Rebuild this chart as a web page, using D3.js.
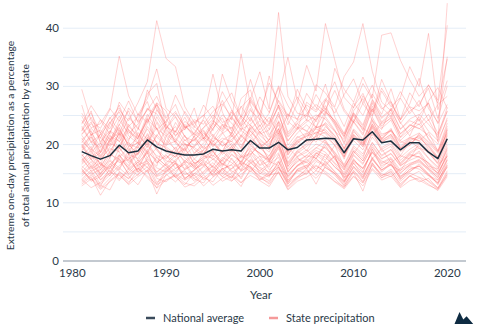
<!DOCTYPE html>
<html>
<head>
<meta charset="utf-8">
<script src="https://cdn.jsdelivr.net/npm/d3@7"></script>
<style>
  html, body { margin: 0; padding: 0; background: #fff; }
  svg { display: block; font-family: Lato, "Noto Sans", sans-serif; }
</style>
</head>
<body>
<svg id="chart" width="480" height="332"></svg>
<script>
// years 1981..2020
const years = d3.range(1981, 2021);
const xTicks = [1980, 1990, 2000, 2010, 2020];
const yTicks = [0, 10, 20, 30, 40];
const yGrid = [5, 10, 15, 20, 25, 30, 35, 40];

const nationalAvg = [18.8,18.1,17.5,18.1,19.9,18.6,18.9,20.8,19.6,18.9,18.5,18.2,18.2,18.4,19.2,18.9,19.1,18.9,20.7,19.4,
  19.4,20.4,19.1,19.5,20.8,20.9,21.1,21.0,18.6,21.0,20.8,22.2,20.3,20.6,19.1,20.3,20.3,18.7,17.6,21.0];

// one row per state, share of annual precipitation falling on the wettest day (%)
const stateSeries = [
  [29.5,24.1,22.8,26.0,35.2,28.4,25.1,27.9,33.0,26.2,24.8,22.5,26.3,21.0,23.7,27.6,24.2,35.6,26.8,23.1,25.4,29.8,24.0,22.6,27.3,25.9,30.4,24.7,21.9,26.5,28.8,25.0,31.2,27.4,23.6,25.8,26.9,29.7,24.5,30.1],
  [26.8,21.5,24.3,22.7,25.9,24.1,27.2,30.8,41.3,34.8,33.4,26.5,23.8,25.1,22.4,26.7,28.9,24.6,27.8,32.5,26.1,42.7,28.3,25.4,24.9,28.6,26.0,29.3,25.7,23.8,27.1,30.2,26.4,24.8,28.0,25.3,27.6,24.1,26.9,28.3],
  [22.4,25.8,20.1,23.9,21.6,26.3,24.0,28.7,30.5,22.8,25.4,23.1,21.7,24.5,32.1,25.6,22.3,27.9,29.4,24.2,31.8,26.5,23.4,27.1,33.6,29.2,40.8,34.5,28.1,26.3,30.5,27.8,25.2,29.6,24.3,27.0,31.4,26.2,23.8,35.1],
  [24.9,22.1,19.6,23.4,26.8,22.5,20.3,24.7,27.2,25.8,21.4,24.0,22.6,20.9,23.3,32.1,27.5,24.8,31.2,26.0,23.5,28.4,35.0,27.7,24.1,30.3,28.9,26.5,31.7,34.2,40.8,32.6,27.3,25.8,29.1,26.4,24.0,27.5,29.8,26.2],
  [21.7,23.6,22.0,20.4,24.2,21.9,23.5,26.1,25.3,22.7,24.8,21.3,20.6,22.9,25.1,23.4,21.8,26.6,24.0,28.2,25.5,30.1,26.7,24.2,28.8,26.4,25.0,33.1,29.5,27.3,31.6,28.0,38.8,39.2,34.5,31.1,28.3,30.2,27.6,40.5],
  [20.3,22.8,21.1,24.7,22.2,20.6,25.3,23.8,26.9,24.4,22.1,25.7,23.2,21.5,24.1,22.7,25.9,23.0,27.4,25.1,22.6,26.8,24.3,29.5,26.2,23.9,27.7,25.4,28.6,31.3,27.0,24.8,29.2,26.5,28.1,33.4,30.0,39.1,26.0,31.0],
  [19.8,21.4,18.7,22.3,20.5,23.1,21.6,19.9,24.8,22.0,20.7,23.5,21.2,19.4,22.8,24.6,21.3,23.9,26.2,22.5,24.7,21.8,25.3,23.0,20.9,24.4,26.7,23.6,21.2,25.8,27.9,24.1,22.6,26.3,23.8,21.5,25.0,27.2,20.5,44.3],
  [23.5,26.7,24.2,21.8,27.3,25.0,22.6,29.4,26.1,23.7,28.5,25.3,22.9,26.8,24.4,29.1,26.0,23.4,27.7,25.2,30.6,27.3,24.8,28.2,25.7,22.9,27.5,30.8,26.1,23.9,28.4,25.6,29.7,27.0,24.3,28.9,26.5,30.3,27.1,34.7],
  [18.2,16.5,15.1,17.8,19.6,16.9,18.4,21.3,19.0,17.2,16.8,15.9,17.5,16.4,18.7,17.1,19.3,16.6,20.5,18.0,17.4,21.6,16.2,18.9,17.7,19.4,20.8,18.3,15.7,19.1,17.6,22.4,18.8,19.7,16.5,18.2,17.9,16.3,15.8,19.5],
  [15.4,14.2,12.8,16.1,17.3,15.0,16.7,18.9,14.6,15.8,17.2,14.1,15.5,16.9,14.8,17.4,15.2,16.3,18.1,14.9,16.6,17.8,13.9,15.7,16.4,18.2,17.0,15.3,13.6,16.8,15.1,19.3,16.0,17.5,14.4,16.2,15.8,14.7,13.9,16.5],
  [21.6,19.3,17.9,20.4,22.8,19.7,21.2,24.5,20.1,19.6,18.4,20.9,19.2,18.0,21.5,19.8,20.6,18.7,23.4,21.0,19.5,23.8,18.6,20.3,21.7,22.9,23.6,21.4,17.8,22.5,20.2,24.7,21.8,22.3,19.4,21.1,20.7,19.0,17.3,22.6],
  [14.1,15.6,13.2,14.8,16.4,17.9,15.3,16.8,13.5,14.7,15.9,16.6,14.2,15.4,16.9,15.1,14.3,17.2,16.0,14.6,13.8,15.7,14.9,16.3,17.5,15.8,16.7,18.1,14.4,15.2,13.7,16.4,15.0,14.5,15.9,16.8,17.3,15.6,14.0,16.1],
  [19.7,17.4,16.0,18.9,21.2,18.3,17.6,20.4,22.9,19.1,18.7,17.2,18.5,19.8,17.9,20.6,19.2,21.7,20.0,18.4,17.6,19.9,16.8,18.7,20.3,21.5,22.1,20.8,17.5,21.3,19.6,23.0,20.5,21.2,18.1,20.6,19.4,18.8,16.9,21.0],
  [16.8,18.5,14.9,17.2,15.6,19.1,20.4,17.7,16.3,21.5,19.0,17.8,16.1,18.6,15.9,17.4,19.8,16.5,18.2,20.3,17.1,16.4,19.5,17.9,15.8,18.6,17.3,19.9,16.2,18.4,20.7,17.6,19.3,16.9,18.1,17.5,20.2,18.8,16.6,17.9],
  [13.2,14.5,11.3,13.8,15.1,13.6,14.9,16.2,13.1,14.0,14.8,13.4,12.9,14.3,15.5,13.7,14.6,12.8,15.9,14.2,13.5,16.1,12.9,14.4,15.0,16.3,15.4,14.1,12.6,15.2,12.0,16.8,14.7,15.3,13.3,14.6,13.9,13.0,12.3,14.8],
  [23.2,20.6,19.4,22.1,24.9,21.5,20.2,23.7,26.8,22.4,21.0,19.7,20.8,22.3,19.6,21.9,23.0,20.5,22.7,24.1,21.3,25.6,19.9,22.0,23.4,21.7,24.8,22.5,19.3,23.9,21.6,26.1,22.8,24.2,20.7,22.3,23.6,21.1,19.0,23.7],
  [17.5,15.8,16.9,14.6,18.2,16.4,19.7,17.1,15.3,16.8,18.5,15.6,17.0,14.9,16.3,18.8,17.4,15.7,19.2,16.5,18.1,20.5,15.2,17.6,16.9,18.4,19.6,17.8,14.8,17.3,16.0,18.7,17.2,16.4,15.5,17.9,18.6,16.1,15.2,18.0],
  [20.8,22.4,18.6,21.7,19.3,23.5,21.0,25.2,22.6,20.1,23.8,21.4,19.8,22.0,20.5,23.3,21.9,24.6,22.2,20.7,19.5,24.1,21.3,23.0,22.4,20.8,25.5,23.7,20.1,24.3,22.9,21.5,23.8,25.0,21.2,22.6,24.4,20.9,18.7,23.2],
  [15.9,13.7,14.5,16.3,14.1,15.4,17.0,18.5,15.2,16.6,14.3,15.8,16.5,13.9,15.1,16.8,15.5,14.4,17.3,15.9,14.7,16.2,13.5,15.6,14.9,17.1,16.4,18.0,13.8,16.9,14.5,17.7,15.3,16.7,14.0,15.8,16.3,14.6,13.4,17.4],
  [18.9,20.5,17.3,19.6,21.8,18.2,19.9,22.7,20.3,18.6,17.9,19.4,21.0,18.5,20.2,18.9,21.6,19.3,22.4,20.1,18.7,21.9,17.6,19.8,20.6,22.2,21.3,20.0,18.4,20.7,19.1,22.8,20.4,21.5,18.8,19.9,21.7,19.2,17.8,20.9],
  [14.6,16.2,13.9,15.1,17.6,14.8,16.0,14.3,12.6,15.5,16.8,14.0,15.7,17.1,14.5,15.9,14.2,16.6,15.3,17.4,14.9,16.1,13.2,15.8,16.5,14.7,17.2,15.4,13.7,16.0,14.4,17.8,15.6,16.9,14.1,15.3,16.7,15.0,13.1,16.4],
  [22.3,24.7,21.1,19.8,23.5,20.9,22.6,26.3,24.0,21.7,20.4,23.2,21.9,20.6,22.8,25.1,23.7,21.4,24.5,22.1,20.8,24.9,21.5,23.6,22.2,24.8,26.0,23.3,20.4,25.2,22.6,27.1,23.9,25.5,21.8,23.4,22.7,24.3,21.2,25.8],
  [16.3,14.9,15.7,17.4,16.0,18.3,15.2,17.8,19.4,16.7,15.4,16.9,14.6,16.2,17.5,15.8,16.6,18.1,17.0,15.5,16.8,18.6,14.3,16.4,17.7,19.0,18.2,16.1,14.9,17.6,15.3,19.2,16.9,17.8,15.6,16.5,17.2,15.9,14.7,18.3],
  [19.4,21.8,18.1,20.7,23.0,19.6,20.3,18.8,21.5,23.6,20.2,19.0,21.4,22.5,19.8,21.1,20.5,22.9,21.7,19.3,20.8,23.4,18.7,21.2,22.0,20.4,23.1,21.6,19.2,22.7,21.0,24.3,20.9,22.6,19.7,21.3,20.6,22.1,18.9,21.9],
  [13.8,15.3,12.5,14.2,16.0,14.6,13.1,15.7,11.5,14.9,13.6,15.2,14.1,13.4,15.8,14.5,13.7,15.5,16.3,13.9,14.8,15.1,12.7,14.4,15.9,13.2,16.4,14.7,12.9,15.6,13.5,16.6,14.3,15.0,12.8,14.6,15.4,13.6,12.4,15.2],
  [21.1,18.7,20.3,17.6,22.5,20.0,18.4,21.9,19.5,22.8,20.6,18.2,19.7,21.3,20.1,18.6,22.2,19.9,21.5,23.4,20.4,22.0,19.1,20.7,18.9,21.6,23.8,22.3,19.4,21.8,20.2,23.5,21.0,22.4,20.6,19.8,21.9,20.3,18.5,22.1],
  [17.0,19.2,15.6,18.3,17.5,16.1,18.9,20.6,17.7,16.4,18.1,19.5,16.8,17.4,19.0,16.6,18.2,17.1,19.8,18.5,16.9,20.2,15.8,17.9,18.7,20.1,19.4,17.6,15.9,18.8,17.2,20.4,18.0,19.1,16.7,18.4,17.8,16.9,15.5,19.3],
  [25.4,22.9,23.6,26.2,24.1,27.5,23.8,25.9,28.3,24.6,26.9,22.8,24.3,23.5,25.7,27.0,24.8,26.4,28.1,25.3,23.9,27.6,25.1,24.4,26.8,25.6,27.9,26.3,23.1,27.2,25.0,28.7,26.1,27.4,24.2,26.5,25.8,27.1,23.6,26.9],
  [15.2,17.1,14.4,16.6,18.3,15.9,14.7,17.5,16.0,15.3,16.9,14.8,15.6,17.3,16.2,14.9,17.7,15.4,16.8,18.0,15.7,17.2,14.5,16.3,17.0,15.5,18.4,16.7,14.2,17.4,15.8,18.6,16.4,17.1,15.0,16.6,17.5,15.9,14.3,17.6],
  [20.1,17.8,19.0,21.4,20.6,18.3,22.1,19.5,23.8,20.7,19.2,21.6,18.5,20.3,21.8,19.7,20.9,22.4,21.2,19.6,20.8,22.7,18.9,20.5,21.9,23.1,22.3,20.4,18.6,21.7,19.9,23.6,21.1,22.8,19.4,20.6,21.5,20.0,17.9,22.5],
  [14.0,12.6,13.5,15.2,14.7,13.3,15.8,16.9,14.2,13.6,15.0,13.9,14.8,12.9,14.4,15.6,13.8,14.9,16.1,14.5,13.2,15.4,12.4,14.1,15.3,16.5,15.1,13.7,12.7,14.6,13.4,15.9,14.3,15.5,13.0,14.7,13.6,14.2,12.5,14.9],
  [18.4,16.1,17.6,19.3,18.8,20.5,17.2,19.8,18.1,17.5,19.6,16.8,18.3,19.0,17.4,18.9,20.2,17.9,19.4,18.6,17.1,20.8,16.6,18.5,19.7,21.0,20.3,18.2,16.4,19.5,18.0,21.3,19.2,20.1,17.3,18.7,19.8,17.7,16.2,19.9],
  [22.9,20.4,21.7,23.8,25.6,22.2,21.0,24.3,22.7,21.5,23.1,20.6,22.0,24.2,21.4,23.5,22.8,24.9,23.3,21.8,22.5,25.3,20.7,22.6,23.9,25.1,24.4,22.3,20.9,24.0,21.9,26.2,23.2,24.7,21.3,23.4,22.8,21.6,20.1,24.6],
  [16.6,18.0,16.9,15.3,17.8,19.5,16.2,18.7,17.3,15.9,17.4,18.6,16.0,17.6,18.2,16.7,15.8,17.9,18.5,16.4,17.2,19.3,15.5,17.0,18.1,17.7,19.9,17.4,15.6,18.3,16.8,19.6,17.5,18.4,16.3,17.7,18.9,16.6,15.1,18.1],
  [21.8,23.9,20.5,22.4,21.2,24.6,22.9,20.8,26.0,23.3,21.6,22.7,24.0,21.0,23.7,22.1,24.8,22.6,23.5,25.2,21.7,23.9,20.6,22.8,24.3,23.0,25.7,24.1,21.4,25.0,22.4,26.6,23.6,24.5,21.9,23.2,24.7,22.3,20.7,24.2],
  [13.5,14.8,13.0,12.2,15.3,14.1,16.0,14.6,13.2,15.7,14.4,13.1,15.1,14.3,13.6,15.9,14.7,13.4,15.5,14.0,15.2,16.4,13.3,14.5,15.6,14.2,16.1,15.0,13.0,15.4,14.1,16.9,14.6,15.8,13.7,15.1,14.4,13.8,12.6,15.5],
  [19.0,21.3,17.7,20.2,19.5,22.6,20.9,18.4,21.7,19.9,20.6,18.8,21.5,19.2,20.4,22.1,19.7,21.2,22.8,20.3,19.1,22.3,18.2,20.8,21.4,22.7,21.9,19.8,17.9,21.6,20.0,23.2,20.6,21.8,19.3,20.9,21.3,19.6,17.7,21.5],
  [17.8,15.4,16.3,18.6,16.9,17.4,15.6,19.2,16.8,18.3,15.9,17.1,16.5,18.0,17.7,16.2,18.4,17.0,18.9,17.5,16.1,19.7,15.3,17.2,18.2,19.5,18.7,16.9,15.2,18.1,16.6,19.9,17.6,18.5,16.4,17.3,18.0,16.8,14.9,18.6],
  [24.2,21.7,22.5,20.9,23.4,25.8,21.3,24.0,27.1,23.0,22.2,24.7,21.6,22.9,24.3,22.4,25.6,23.2,24.8,22.0,23.6,26.4,21.8,23.7,25.0,24.2,26.3,23.9,21.5,25.4,23.1,27.4,24.5,25.9,22.6,24.1,23.4,25.2,21.9,25.7],
  [15.7,13.9,15.0,16.7,15.4,14.2,16.5,17.2,14.8,16.0,14.6,15.5,13.7,15.2,16.4,14.5,15.9,16.9,16.2,15.1,14.4,17.0,13.6,15.3,16.1,17.4,16.6,15.0,13.3,16.2,14.8,17.5,15.6,16.5,14.3,15.7,16.3,14.9,13.5,16.8],
  [20.6,19.1,21.9,18.5,22.0,20.2,19.4,23.1,21.3,19.8,22.4,20.0,19.6,21.1,18.8,20.7,21.8,19.5,23.0,21.6,20.1,22.6,19.3,21.4,20.5,22.9,23.4,21.0,18.9,22.2,20.8,24.0,21.5,22.5,20.3,21.2,22.0,20.5,18.8,22.8],
  [16.0,17.6,14.7,16.4,18.1,15.7,17.0,15.2,17.9,16.3,15.0,17.3,15.8,16.6,15.4,17.8,16.9,15.6,17.5,16.1,15.3,18.3,14.6,16.5,17.2,18.6,17.8,16.2,14.5,17.1,15.9,18.8,16.7,17.6,15.2,16.4,17.0,15.7,14.4,17.3],
  [18.0,19.7,16.4,21.1,18.6,17.3,20.0,21.6,19.2,17.7,18.9,20.3,17.5,19.1,20.7,18.3,19.6,18.1,20.9,19.4,18.0,21.2,17.0,19.0,20.0,21.4,20.6,18.7,16.6,19.8,18.4,21.9,19.5,20.4,17.8,19.2,20.2,18.5,16.8,20.4],
  [12.9,14.1,12.3,13.6,14.9,13.1,14.5,15.6,12.5,13.9,14.6,12.7,13.4,14.8,13.0,14.2,15.1,13.5,14.7,13.8,12.8,15.3,12.2,13.7,14.4,15.5,14.9,13.6,12.4,14.5,12.9,15.7,13.9,14.6,12.6,13.8,14.3,13.2,12.1,14.5],
  [23.7,25.4,22.0,24.5,26.3,23.1,24.8,27.4,22.6,24.0,25.7,22.9,23.6,25.0,26.6,23.8,24.6,22.4,25.9,24.3,23.2,26.8,22.1,24.1,25.3,26.9,25.6,24.2,21.8,25.5,23.4,27.7,24.7,26.1,22.7,24.4,25.2,23.5,21.6,26.4],
  [17.3,18.8,16.6,15.8,19.4,17.6,18.5,20.2,16.9,18.1,17.0,19.3,16.7,17.8,18.9,16.4,19.0,17.7,18.3,20.0,17.4,19.6,16.3,18.0,19.1,17.5,20.4,18.6,16.1,18.9,17.2,20.3,18.2,19.2,16.9,18.5,19.4,17.6,15.9,19.0],
  [19.9,17.5,18.6,20.8,22.1,19.0,18.2,21.0,20.5,19.3,17.8,20.1,19.5,18.4,21.2,20.4,18.7,21.5,20.0,22.3,19.6,22.8,18.3,20.2,21.5,22.0,22.6,20.9,18.0,21.4,19.7,23.3,20.8,21.7,19.1,20.3,21.1,19.8,17.6,21.7],
  [14.9,16.4,14.0,15.6,13.8,15.9,17.3,16.1,14.5,15.2,16.7,14.3,15.0,16.3,14.7,15.8,16.5,14.1,16.9,15.4,14.6,17.1,13.8,15.5,16.2,17.7,16.0,15.1,13.5,16.3,14.2,17.4,15.7,16.6,14.6,15.4,16.4,14.8,13.3,16.2]
];

const textColor = '#2a3948';
const svg = d3.select('#chart');

let x = d3.scaleLinear().domain([1979, 2022]).range([63, 466]);
let y = d3.scaleLinear().domain([0, 45]).range([261, -0.9]);

// horizontal grid
svg.append('g').selectAll('line')
    .data(yGrid)
    .enter()
    .append('line')
    .attr('x1', x(1979)).attr('x2', x(2022))
    .attr('y1', d => y(d)).attr('y2', d => y(d))
    .attr('stroke', '#e4edf7')
    .attr('stroke-width', 1);

// baseline
svg.append('line')
    .attr('x1', x(1979)).attr('x2', x(2022))
    .attr('y1', y(0)).attr('y2', y(0))
    .attr('stroke', '#8794a1')
    .attr('stroke-width', 1.2);

svg.append('g').selectAll('text')
    .data(yTicks)
    .enter()
    .append('text')
    .attr('x', 59)
    .attr('y', d => y(d))
    .attr('dy', '0.35em')
    .attr('text-anchor', 'end')
    .attr('font-size', 11.5)
    .attr('fill', textColor)
    .text(d => d);

svg.append('g').selectAll('text')
    .data(xTicks)
    .enter()
    .append('text')
    .attr('x', d => x(d))
    .attr('y', 273)
    .attr('dy', '0.35em')
    .attr('text-anchor', 'middle')
    .attr('font-size', 11.5)
    .attr('fill', textColor)
    .text(d => d);

let line = d3.line()
    .x((d, i) => x(years[i]))
    .y(d => y(d));

svg.append('g').selectAll('path')
    .data(stateSeries)
    .enter()
    .append('path')
    .attr('d', line)
    .attr('fill', 'none')
    .attr('stroke', '#ff5c5c')
    .attr('stroke-opacity', 0.28)
    .attr('stroke-width', 1);

svg.append('path')
    .attr('d', line(nationalAvg))
    .attr('fill', 'none')
    .attr('stroke', '#1d2f3e')
    .attr('stroke-width', 1.5)
    .attr('stroke-linejoin', 'round');

// axis titles
svg.append('text')
    .attr('x', 261).attr('y', 295)
    .attr('dy', '0.35em')
    .attr('text-anchor', 'middle')
    .attr('font-size', 11.5)
    .attr('fill', textColor)
    .text('Year');

let yTitle = svg.append('text')
    .attr('transform', 'translate(10,145.5) rotate(-90)')
    .attr('text-anchor', 'middle')
    .attr('font-size', 10.3)
    .attr('fill', textColor);
yTitle.append('tspan').attr('x', 0).attr('dy', '0.35em')
    .text('Extreme one-day precipitation as a percentage');
yTitle.append('tspan').attr('x', 0).attr('dy', 15)
    .text('of total annual precipitation by state');

// legend
const legendItems = [
    { label: 'National average', color: '#3a4b5b', x: 146 },
    { label: 'State precipitation', color: '#f59a9a', x: 269 }
];
let legend = svg.append('g').selectAll('g')
    .data(legendItems)
    .enter()
    .append('g')
    .attr('transform', d => `translate(${d.x},318)`);
legend.append('line')
    .attr('x1', 0).attr('x2', 9)
    .attr('stroke', d => d.color)
    .attr('stroke-width', 2.5);
legend.append('text')
    .attr('x', 17)
    .attr('dy', '0.35em')
    .attr('font-size', 11)
    .attr('fill', textColor)
    .text(d => d.label);

// mark in the corner
svg.append('path')
    .attr('d', 'M454.5,324 L459.5,312 L463.3,319.5 L466.6,316.3 L473.2,324 Z')
    .attr('fill', '#0e2b42');
</script>
</body>
</html>
